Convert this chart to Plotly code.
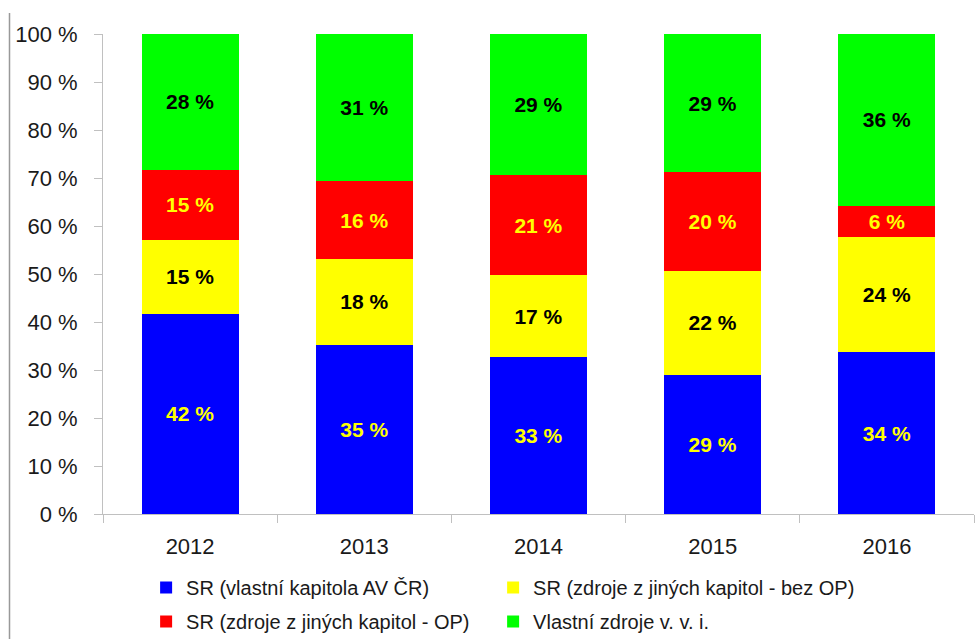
import plotly.graph_objects as go

years = ["2012", "2013", "2014", "2015", "2016"]
series_names = [
    "SR (vlastní kapitola AV ČR)",
    "SR (zdroje z jiných kapitol - bez OP)",
    "SR (zdroje z jiných kapitol - OP)",
    "Vlastní zdroje v. v. i.",
]
sr_vlastni = [41.7, 35.2, 32.8, 29.0, 33.7]
sr_bez_op = [15.4, 18.0, 16.9, 21.7, 24.1]
sr_op = [14.6, 16.1, 21.0, 20.5, 6.4]
vlastni_zdroje = [28.3, 30.7, 29.3, 28.8, 35.8]

values = [sr_vlastni, sr_bez_op, sr_op, vlastni_zdroje]
colors = ["#0000ff", "#ffff00", "#ff0000", "#00ff00"]
label_colors = ["#ffff00", "#000000", "#ffff00", "#000000"]
legend_ids = ["legend", "legend2", "legend3", "legend4"]

FONT = "Liberation Sans, Arial, sans-serif"
TXT = "#1a1a1a"

fig = go.Figure()
for name, vals, col, lcol, lg in zip(series_names, values, colors, label_colors, legend_ids):
    fig.add_trace(go.Bar(
        x=years, y=vals, name=name, legend=lg,
        marker=dict(color=col, line=dict(width=0)),
        text=[f"{round(v)} %" for v in vals],
        textposition="inside", insidetextanchor="middle", textangle=0,
        textfont=dict(family=FONT, size=21, color=lcol, weight="bold"),
        hoverinfo="skip",
    ))

legend_common = dict(
    orientation="h", xanchor="left", yanchor="middle",
    font=dict(family=FONT, size=20, color=TXT),
    itemclick=False, itemdoubleclick=False,
    bgcolor="rgba(0,0,0,0)", borderwidth=0,
)
col1_x, col2_x = 0.0495, 0.4479
row1_y, row2_y = (514 - 587.5) / 480, (514 - 621.5) / 480

fig.update_layout(
    barmode="stack",
    bargap=0.443,
    width=977, height=639,
    margin=dict(l=103, r=3, t=34, b=125, autoexpand=False),
    plot_bgcolor="white", paper_bgcolor="white",
    uniformtext=dict(minsize=21, mode="show"),
    font=dict(family=FONT, color=TXT),
    showlegend=True,
    legend=dict(legend_common, x=col1_x, y=row1_y),
    legend2=dict(legend_common, x=col2_x, y=row1_y),
    legend3=dict(legend_common, x=col1_x, y=row2_y),
    legend4=dict(legend_common, x=col2_x, y=row2_y),
    xaxis=dict(
        type="category", showline=True, linecolor="#c0c0c0", linewidth=1,
        ticks="outside", tickson="boundaries", ticklen=8, tickcolor="#c0c0c0",
        tickfont=dict(family=FONT, size=22, color=TXT),
        ticklabelstandoff=13,
        showgrid=False, zeroline=False,
    ),
    yaxis=dict(
        range=[0, 100], dtick=10, ticksuffix=" %",
        showline=True, linecolor="#c0c0c0", linewidth=1,
        ticks="outside", ticklen=8, tickcolor="#c0c0c0",
        tickfont=dict(family=FONT, size=22, color=TXT),
        ticklabelstandoff=12,
        showgrid=False, zeroline=False,
    ),
    shapes=[dict(
        type="line", xref="paper", yref="paper", layer="above",
        x0=(9.5 - 103) / 871, x1=(9.5 - 103) / 871,
        y0=1 + 21 / 480, y1=-125 / 480,
        line=dict(color="#999999", width=1.5),
    )],
)

fig.write_html(
    "out.html",
    config={"displayModeBar": False},
    post_script="document.body.style.margin='0';",
)
